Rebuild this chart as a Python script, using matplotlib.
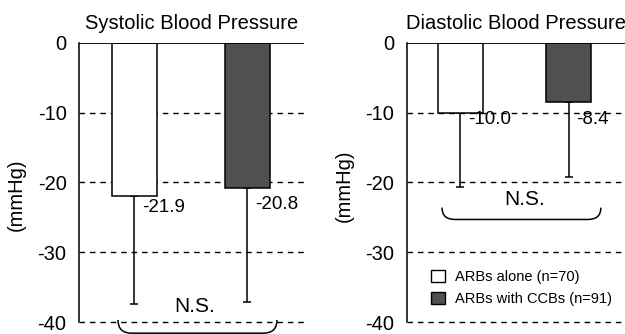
import numpy as np
import matplotlib
matplotlib.use("Agg")
from matplotlib import pyplot as plt
from matplotlib.patches import Patch, PathPatch
from matplotlib.path import Path

plt.rcParams["font.family"] = ["Liberation Sans", "DejaVu Sans"]

# data
groups = ["ARBs alone (n=70)", "ARBs with CCBs (n=91)"]
systolic = [-21.9, -20.8]
systolic_sd = [15.5, 16.3]
diastolic = [-10.0, -8.4]
diastolic_sd = [10.7, 10.8]
yticks = [0, -10, -20, -30, -40]

colors = ["white", "#505050"]

f = plt.figure(figsize=(6.25, 3.34), dpi=100)
ax1 = f.add_axes([0.1264, 0.0359, 0.36, 0.8354])
ax2 = f.add_axes([0.6512, 0.0359, 0.3488, 0.8354])


def brace(ax, x0, x1, ytop, ybot, dx):
    verts = [(x0, ytop), (x0, ybot), (x0 + dx, ybot),
             (x1 - dx, ybot), (x1, ybot), (x1, ytop)]
    codes = [Path.MOVETO, Path.CURVE3, Path.CURVE3,
             Path.LINETO, Path.CURVE3, Path.CURVE3]
    ax.add_patch(PathPatch(Path(verts, codes), fill=False, lw=1.1,
                           edgecolor="black", clip_on=False))


def panel(ax, title, vals, sd, xlim, width, label_y):
    x = np.arange(len(vals))
    ax.bar(x, vals, width=width, color=colors, edgecolor="black", lw=1.1, zorder=3)
    ax.errorbar(x, vals, yerr=[sd, [0] * len(sd)], fmt="none", ecolor="black",
                elinewidth=1.1, capsize=3, capthick=1.1, zorder=2)
    for xi, v, ly in zip(x, vals, label_y):
        ax.text(xi + 0.07, ly, "%.1f" % v, ha="left", va="top", fontsize=13.5)
    ax.set_xlim(*xlim)
    ax.set_ylim(-40, 0)
    ax.set_yticks(yticks)
    ax.set_yticklabels([str(t) for t in yticks], fontsize=14.5)
    ax.set_xticks([])
    ax.tick_params(axis="y", length=0, pad=9)
    for s in ["top", "right", "bottom"]:
        ax.spines[s].set_visible(False)
    ax.spines["left"].set_linewidth(1.1)
    for t in yticks[1:]:
        ax.axhline(t, color="black", lw=1, ls=(0, (4, 3.5)), zorder=1, clip_on=False)
    ax.axhline(0, color="black", lw=1.3, zorder=4)
    ax.set_title(title, fontsize=14.5, pad=10)
    ax.set_ylabel("(mmHg)", fontsize=14.5)


panel(ax1, "Systolic Blood Pressure", systolic, systolic_sd,
      (-0.491, 1.5), 0.398, [-22.3, -21.9])
ax1.yaxis.set_label_coords(-0.235, 0.455)
brace(ax1, -0.146, 1.261, -39.7, -41.6, 0.12)
ax1.text(0.535, -37.8, "N.S.", ha="center", va="center", fontsize=15)

panel(ax2, "Diastolic Blood Pressure", diastolic, diastolic_sd,
      (-0.495, 1.523), 0.417, [-9.8, -9.8])
ax2.yaxis.set_label_coords(-0.245, 0.49)
brace(ax2, -0.171, 1.30, -23.6, -25.3, 0.12)
ax2.text(0.597, -22.5, "N.S.", ha="center", va="center", fontsize=15)

handles = [Patch(facecolor=c, edgecolor="black", lw=1) for c in colors]
ax2.legend(handles, groups, loc="center left", bbox_to_anchor=(0.112, 0.122),
           frameon=False, fontsize=10.5, handlelength=0.9, handleheight=0.9,
           handletextpad=0.7, labelspacing=0.55, borderpad=0, borderaxespad=0)

f.savefig("out.png", dpi=100)
